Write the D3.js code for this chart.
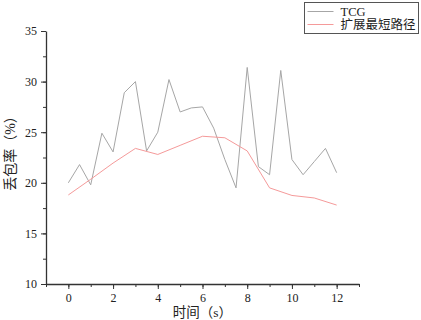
<!DOCTYPE html>
<html>
<head>
<meta charset="utf-8">
<script src="https://cdn.jsdelivr.net/npm/d3@7"></script>
<style>
  body { margin: 0; background: #fff; }
  text { font-family: "Liberation Serif", "Noto Sans CJK SC", serif; fill: #222; }
</style>
</head>
<body>
<div id="chart"></div>
<script>
// data
var tcgTime = [0, 0.5, 1, 1.5, 2, 2.5, 3, 3.5, 4, 4.5, 5, 5.5, 6, 6.5, 7, 7.5, 8, 8.5, 9, 9.5, 10, 10.5, 11, 11.5, 12]
var tcgLoss = [20.0, 21.8, 19.8, 24.9, 23.05, 28.9, 30.0, 23.15, 25.0, 30.2, 27.0, 27.4, 27.5, 25.4, 22.3, 19.5, 31.4, 21.6, 20.8, 31.1, 22.3, 20.8, 22.1, 23.4, 21.0]
var espTime = [0, 1, 2, 3, 4, 5, 6, 7, 8, 9, 10, 11, 12]
var espLoss = [18.8, 20.35, 21.95, 23.4, 22.8, 23.7, 24.6, 24.45, 23.15, 19.5, 18.75, 18.5, 17.8]
var seriesNames = ['TCG', '扩展最短路径']
var seriesColors = ['#a6a6a6', '#f59a9a']
var xTicks = [0, 2, 4, 6, 8, 10, 12]
var yTicks = [10, 15, 20, 25, 30, 35]

var width = 421, height = 320
var margin = { top: 31, right: 62, bottom: 36, left: 46 }

var svg = d3.select("#chart")
  .append("svg")
  .attr("width", width)
  .attr("height", height)

var xScale = d3.scaleLinear()
  .domain([-1, 13])
  .range([margin.left, width - margin.right])

var yScale = d3.scaleLinear()
  .domain([10, 35])
  .range([height - margin.bottom, margin.top])

// minor ticks
svg.append("g")
  .attr("transform", `translate(0,${height - margin.bottom})`)
  .call(d3.axisBottom(xScale).tickValues(d3.range(-1, 14, 1)).tickSize(3).tickFormat(""))
  .call(g => g.select(".domain").remove())
  .style('color', '#333')

svg.append("g")
  .attr("transform", `translate(${margin.left},0)`)
  .call(d3.axisLeft(yScale).tickValues(d3.range(10, 35.1, 2.5)).tickSize(3).tickFormat(""))
  .call(g => g.select(".domain").remove())
  .style('color', '#333')

// X axis
svg.append("g")
  .attr("transform", `translate(0,${height - margin.bottom})`)
  .call(d3.axisBottom(xScale).tickValues(xTicks).tickSize(5).tickPadding(4).tickSizeOuter(0))
  .style('color', '#333')
  .selectAll("text")
  .style('font-size', '12px')
  .style('fill', '#222')

// Y axis
svg.append("g")
  .attr("transform", `translate(${margin.left},0)`)
  .call(d3.axisLeft(yScale).tickValues(yTicks).tickSize(5).tickPadding(4).tickSizeOuter(0))
  .style('color', '#333')
  .selectAll("text")
  .style('font-size', '12px')
  .style('fill', '#222')

svg.selectAll(".domain").attr("stroke-width", 1.3)

var line = d3.line()
  .x(d => xScale(d[0]))
  .y(d => yScale(d[1]))

svg.append("path")
  .datum(d3.zip(tcgTime, tcgLoss))
  .attr("fill", "none")
  .attr("stroke", seriesColors[0])
  .attr("stroke-width", 1)
  .attr("d", line)

svg.append("path")
  .datum(d3.zip(espTime, espLoss))
  .attr("fill", "none")
  .attr("stroke", seriesColors[1])
  .attr("stroke-width", 1)
  .attr("d", line)

// axis titles
svg.append("text")
  .attr("x", xScale(6))
  .attr("y", 317)
  .style("text-anchor", "middle")
  .style('font-size', '13.5px')
  .text('时间（s）')

svg.append("text")
  .attr("transform", `translate(15,150) rotate(-90)`)
  .style("text-anchor", "middle")
  .style('font-size', '14px')
  .text('丢包率（%）')

// legend
var legend = svg.append("g")
  .attr("transform", "translate(304.5,2.5)")

legend.append("rect")
  .attr("width", 114)
  .attr("height", 31)
  .attr("fill", "#fff")
  .attr("stroke", "#555")
  .attr("stroke-width", 1)

seriesNames.forEach(function(name, i) {
  legend.append("line")
    .attr("x1", 3).attr("x2", 29)
    .attr("y1", 9 + i * 13).attr("y2", 9 + i * 13)
    .attr("stroke", seriesColors[i])
    .attr("stroke-width", 1)
  legend.append("text")
    .attr("x", 36)
    .attr("y", 13.5 + i * 13)
    .style('font-size', '12.5px')
    .text(name)
})
</script>
</body>
</html>
